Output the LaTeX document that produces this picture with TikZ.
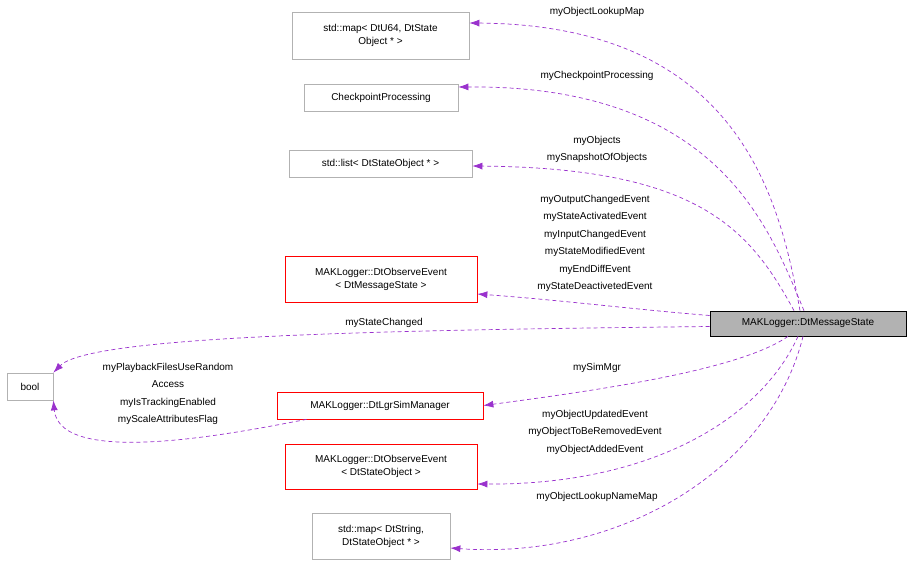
\documentclass[tikz,border=0pt]{standalone}
\usepackage{fontspec}
\setmainfont{Liberation Sans}
\usetikzlibrary{arrows.meta}
\begin{document}
\begin{tikzpicture}[x=1pt,y=-1pt,font=\fontsize{10}{13}\selectfont,
 box/.style={draw=#1,fill=white,align=center,inner sep=0pt,line width=0.7pt},
 box/.default={black!30},
 e/.style={dash pattern=on 4pt off 3pt,line width=0.7pt,-{Latex[length=10pt,width=7pt]},color={rgb,255:red,154;green,50;blue,205}},
 lab/.style={align=center,inner sep=0pt,font=\fontsize{10}{17.5}\selectfont}]
\useasboundingbox (0,0) rectangle (912,564);
\node[box,minimum width=177,minimum height=47] (m1) at (380.5,35.5) {std::map< DtU64, DtState\\Object * >};
\node[box,minimum width=154,minimum height=27] (cp) at (381,97.5) {CheckpointProcessing};
\node[box,minimum width=183,minimum height=27] (ls) at (380.5,163.5) {std::list< DtStateObject * >};
\node[box=red,minimum width=192,minimum height=46] (oe1) at (381,279) {MAKLogger::DtObserveEvent\\< DtMessageState >};
\node[box,minimum width=46,minimum height=27] (bo) at (30,386.5) {bool};
\node[box=red,minimum width=206,minimum height=27] (sm) at (380,405.5) {MAKLogger::DtLgrSimManager};
\node[box=red,minimum width=192,minimum height=45] (oe2) at (381,466.5) {MAKLogger::DtObserveEvent\\< DtStateObject >};
\node[box,minimum width=138,minimum height=46] (m2) at (381,536) {std::map< DtString,\\DtStateObject * >};
\node[box=black,fill=black!30,minimum width=196,minimum height=25] (ms) at (808,323.5) {MAKLogger::DtMessageState};
\draw[e] (ms.north) ++(-8,0) .. controls (780,200) and (740,25) .. (m1.east |- 0,23);
\draw[e] (ms.north) ++(-4,0) .. controls (770,230) and (720,85) .. (cp.east |- 0,87);
\draw[e] (ms.north) ++(-14,0) .. controls (750,230) and (700,168) .. (ls.east |- 0,166);
\draw[e] (ms.west) ++(0,-8) .. controls (640,310) and (560,300) .. (oe1.east |- 0,294);
\draw[e] (ms.west) ++(0,3) .. controls (400,330) and (90,335) .. (bo.north east);
\draw[e] (ms.south) ++(-20,0) .. controls (740,370) and (600,390) .. (sm.east);
\draw[e] (ms.south) ++(-10,0) .. controls (760,420) and (650,485) .. (oe2.east |- 0,484);
\draw[e] (ms.south) ++(-5,0) .. controls (770,470) and (620,560) .. (m2.east |- 0,548);
\draw[e] (sm.south west) ++(30,0) .. controls (250,430) and (60,470) .. (bo.south east);
\node[lab] (l1) at (597,12) {myObjectLookupMap};
\node[lab] (l2) at (597,76) {myCheckpointProcessing};
\node[lab] (l3) at (597,149.5) {myObjects\\mySnapshotOfObjects};
\node[lab] (l4) at (595,243.5) {myOutputChangedEvent\\myStateActivatedEvent\\myInputChangedEvent\\myStateModifiedEvent\\myEndDiffEvent\\myStateDeactivetedEvent};
\node[lab] (l5) at (384,323) {myStateChanged};
\node[lab] (l6) at (168,394) {myPlaybackFilesUseRandom\\Access\\myIsTrackingEnabled\\myScaleAttributesFlag};
\node[lab] (l7) at (597,368) {mySimMgr};
\node[lab] (l8) at (595,432) {myObjectUpdatedEvent\\myObjectToBeRemovedEvent\\myObjectAddedEvent};
\node[lab] (l9) at (597,497) {myObjectLookupNameMap};
\end{tikzpicture}
\end{document}
